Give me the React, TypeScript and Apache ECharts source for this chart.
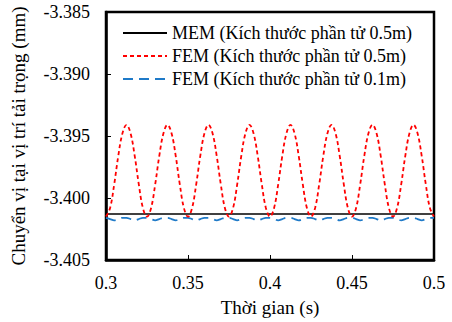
import React, { useEffect, useRef } from "react";
import * as echarts from "echarts";

const times = [
  0.3, 0.3025, 0.305, 0.3075, 0.31, 0.3125, 0.315, 0.3175, 0.32, 0.3225,
  0.325, 0.3275, 0.33, 0.3325, 0.335, 0.3375, 0.34, 0.3425, 0.345, 0.3475,
  0.35, 0.3525, 0.355, 0.3575, 0.36, 0.3625, 0.365, 0.3675, 0.37, 0.3725,
  0.375, 0.3775, 0.38, 0.3825, 0.385, 0.3875, 0.39, 0.3925, 0.395, 0.3975,
  0.4, 0.4025, 0.405, 0.4075, 0.41, 0.4125, 0.415, 0.4175, 0.42, 0.4225,
  0.425, 0.4275, 0.43, 0.4325, 0.435, 0.4375, 0.44, 0.4425, 0.445, 0.4475,
  0.45, 0.4525, 0.455, 0.4575, 0.46, 0.4625, 0.465, 0.4675, 0.47, 0.4725,
  0.475, 0.4775, 0.48, 0.4825, 0.485, 0.4875, 0.49, 0.4925, 0.495, 0.4975,
  0.5,
];

const fem05 = [
  -3.4015, -3.4008, -3.3989, -3.3966, -3.3948, -3.3941, -3.3948, -3.3966, -3.3989, -3.4008,
  -3.4015, -3.4008, -3.3989, -3.3966, -3.3948, -3.3941, -3.3948, -3.3966, -3.3989, -3.4008,
  -3.4015, -3.4008, -3.3989, -3.3966, -3.3948, -3.3941, -3.3948, -3.3966, -3.3989, -3.4008,
  -3.4015, -3.4008, -3.3989, -3.3966, -3.3948, -3.3941, -3.3948, -3.3966, -3.3989, -3.4008,
  -3.4015, -3.4008, -3.3989, -3.3966, -3.3948, -3.3941, -3.3948, -3.3966, -3.3989, -3.4008,
  -3.4015, -3.4008, -3.3989, -3.3966, -3.3948, -3.3941, -3.3948, -3.3966, -3.3989, -3.4008,
  -3.4015, -3.4008, -3.3989, -3.3966, -3.3948, -3.3941, -3.3948, -3.3966, -3.3989, -3.4008,
  -3.4015, -3.4008, -3.3989, -3.3966, -3.3948, -3.3941, -3.3948, -3.3966, -3.3989, -3.4008,
  -3.4015,
];

const fem01 = [
  -3.4016, -3.4017, -3.4018, -3.4017, -3.4016, -3.4016, -3.4017, -3.4018, -3.4017, -3.4016,
  -3.4016, -3.4017, -3.4018, -3.4017, -3.4016, -3.4016, -3.4017, -3.4018, -3.4017, -3.4016,
  -3.4016, -3.4017, -3.4018, -3.4017, -3.4016, -3.4016, -3.4017, -3.4018, -3.4017, -3.4016,
  -3.4016, -3.4017, -3.4018, -3.4017, -3.4016, -3.4016, -3.4017, -3.4018, -3.4017, -3.4016,
  -3.4016, -3.4017, -3.4018, -3.4017, -3.4016, -3.4016, -3.4017, -3.4018, -3.4017, -3.4016,
  -3.4016, -3.4017, -3.4018, -3.4017, -3.4016, -3.4016, -3.4017, -3.4018, -3.4017, -3.4016,
  -3.4016, -3.4017, -3.4018, -3.4017, -3.4016, -3.4016, -3.4017, -3.4018, -3.4017, -3.4016,
  -3.4016, -3.4017, -3.4018, -3.4017, -3.4016, -3.4016, -3.4017, -3.4018, -3.4017, -3.4016,
  -3.4016,
];

const memTimes = [0.3, 0.5];
const memValues = [-3.4013, -3.4013];

const seriesNames = [
  "MEM (Kích thước phần tử 0.5m)",
  "FEM (Kích thước phần tử 0.5m)",
  "FEM (Kích thước phần tử 0.1m)",
];

const xTitle = "Thời gian (s)";
const yTitle = "Chuyển vị tại vị trí tải trọng (mm)";

const FONT = "Liberation Serif";

export default function App() {
  const ref = useRef<HTMLDivElement>(null);
  useEffect(() => {
    if (!ref.current) return;
    const chart = echarts.init(ref.current, null, { renderer: "svg" });
    const zip = (xs: number[], ys: number[]) => xs.map((x, i) => [x, ys[i]]);
    chart.setOption({
      animation: false,
      backgroundColor: "#fff",
      textStyle: { fontFamily: FONT, color: "#000" },
      grid: {
        left: 106,
        top: 12,
        right: 18,
        bottom: 62,
        show: true,
        borderColor: "#000",
        borderWidth: 2.5,
        outerBoundsMode: "none",
        containLabel: false,
      },
      legend: {
        orient: "vertical",
        left: 122,
        top: 24,
        padding: 0,
        itemWidth: 44,
        itemHeight: 14,
        itemGap: 5,
        itemStyle: { opacity: 0 },
        textStyle: { fontFamily: FONT, fontSize: 18, color: "#000", lineHeight: 18 },
        data: seriesNames,
      },
      xAxis: {
        type: "value",
        min: 0.3,
        max: 0.5,
        interval: 0.05,
        name: xTitle,
        nameLocation: "middle",
        nameGap: 38,
        nameTextStyle: { fontFamily: FONT, fontSize: 19, color: "#000" },
        axisLine: { show: true, lineStyle: { color: "#000", width: 2.5 } },
        axisTick: { show: true, inside: true, length: 5, lineStyle: { color: "#000", width: 1 } },
        axisLabel: { fontFamily: FONT, fontSize: 18, color: "#000", margin: 14 },
        splitLine: { show: false },
      },
      yAxis: {
        type: "value",
        min: -3.405,
        max: -3.385,
        interval: 0.005,
        name: yTitle,
        nameLocation: "middle",
        nameGap: 78,
        nameRotate: 90,
        nameTextStyle: { fontFamily: FONT, fontSize: 19, color: "#000" },
        axisLine: { show: true, lineStyle: { color: "#000", width: 2.5 } },
        axisTick: { show: true, inside: true, length: 5, lineStyle: { color: "#000", width: 1 } },
        axisLabel: {
          fontFamily: FONT,
          fontSize: 18,
          color: "#000",
          margin: 16,
          formatter: (v: number) => v.toFixed(3),
        },
        splitLine: { show: false },
      },
      series: [
        {
          name: seriesNames[0],
          type: "line",
          data: zip(memTimes, memValues),
          symbol: "none",
          lineStyle: { color: "#000", width: 1.5, type: "solid" },
          itemStyle: { color: "#000" },
          z: 3,
        },
        {
          name: seriesNames[1],
          type: "line",
          data: zip(times, fem05),
          symbol: "none",
          smooth: 0.4,
          lineStyle: { color: "#ff0000", width: 1.8, type: [4, 3] },
          itemStyle: { color: "#ff0000" },
          z: 4,
        },
        {
          name: seriesNames[2],
          type: "line",
          data: zip(times, fem01),
          symbol: "none",
          smooth: 0.4,
          lineStyle: { color: "#1f7ac8", width: 1.8, type: [10, 6] },
          itemStyle: { color: "#1f7ac8" },
          z: 2,
        },
      ],
    });
    return () => chart.dispose();
  }, []);
  return (
    <div
      ref={ref}
      style={{ position: "absolute", left: 0, top: 0, width: 452, height: 322 }}
    />
  );
}
